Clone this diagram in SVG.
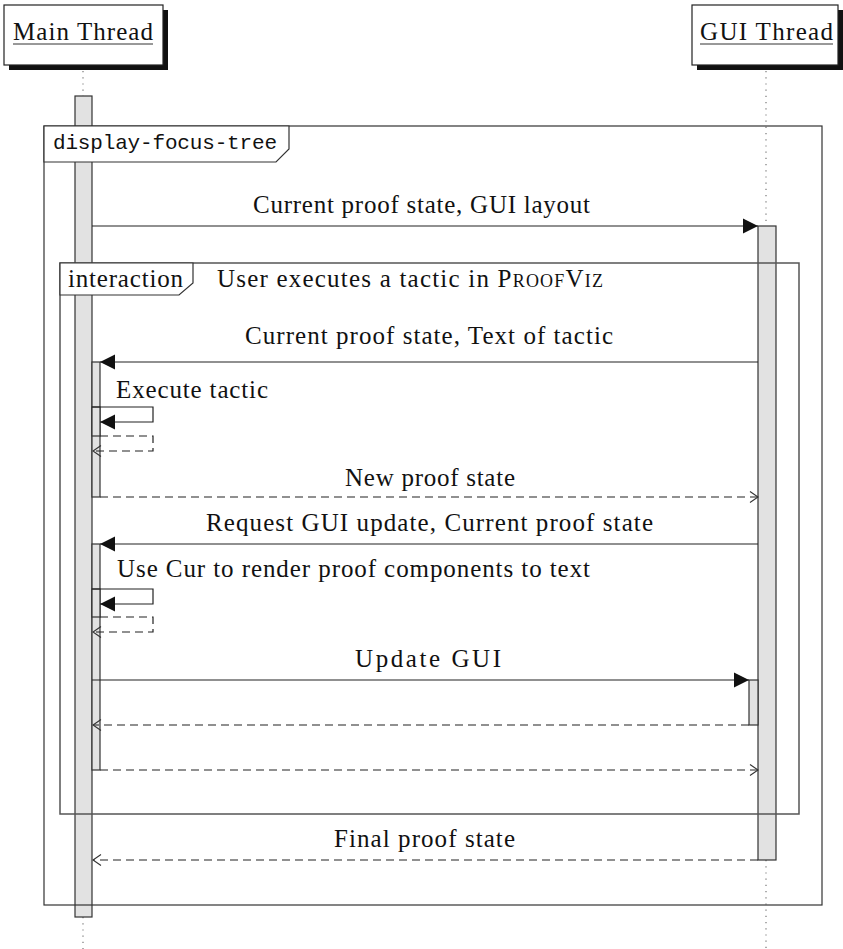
<svg xmlns="http://www.w3.org/2000/svg" width="843" height="949" viewBox="0 0 843 949">
<style>
.t{font-family:"Liberation Serif","DejaVu Serif",serif;font-size:25px;fill:#111}
.m{font-family:"Liberation Mono","DejaVu Sans Mono",monospace;font-size:21px;fill:#111}
.box{fill:#fff;stroke:#222;stroke-width:1.2}
.shadow{fill:#111}
.life{stroke:#777;stroke-width:1.2;stroke-dasharray:1.2 5;fill:none}
.bar{fill:#e2e2e2;stroke:#333;stroke-width:1.2}
.msg{stroke:#222;stroke-width:1.2;fill:none}
.ret{stroke:#222;stroke-width:1.2;fill:none;stroke-dasharray:8 5}
.frame{fill:none;stroke:#333;stroke-width:1.2}
.iframe{fill:none;stroke:#555;stroke-width:1.5}
.tab{fill:#fff;stroke:#333;stroke-width:1.2}
.under{stroke:#333;stroke-width:1}
</style>
<defs>
<marker id="fill" markerUnits="userSpaceOnUse" markerWidth="16" markerHeight="16" viewBox="0 0 16 16" refX="15" refY="8" orient="auto">
<path d="M0,0.5 L15,8 L0,15.5 Z" fill="#111"/>
</marker>
<marker id="open" markerUnits="userSpaceOnUse" markerWidth="12" markerHeight="14" viewBox="0 0 12 14" refX="9" refY="7" orient="auto">
<path d="M1,1.5 L9,7 L1,12.5" fill="none" stroke="#333" stroke-width="1.1"/>
</marker>
</defs>

<g id="lifelines">
<line class="life" x1="83" y1="71" x2="83" y2="96"/>
<line class="life" x1="83" y1="917" x2="83" y2="949"/>
<line class="life" x1="766" y1="71" x2="766" y2="226"/>
<line class="life" x1="766" y1="860" x2="766" y2="949"/>
</g>

<g id="main-thread">
<rect class="shadow" x="9" y="10" width="159" height="60"/>
<rect class="box" x="4" y="5" width="159" height="60"/>
<text class="t" x="13" y="40" textLength="140" lengthAdjust="spacing">Main Thread</text>
<line class="under" x1="13" y1="44" x2="153" y2="44"/>
</g>

<g id="gui-thread">
<rect class="shadow" x="697" y="10" width="146" height="60"/>
<rect class="box" x="692" y="5" width="146" height="60"/>
<text class="t" x="700" y="40" textLength="133" lengthAdjust="spacing">GUI Thread</text>
<line class="under" x1="700" y1="44" x2="833" y2="44"/>
</g>

<g id="activations">
<rect id="main-bar" class="bar" x="75" y="96" width="17" height="821"/>
<rect id="gui-bar" class="bar" x="758" y="226" width="18" height="634"/>
<rect class="bar" x="92" y="362" width="8" height="135"/>
<rect class="bar" x="92" y="407" width="8" height="29"/>
<rect class="bar" x="92" y="544" width="8" height="226"/>
<rect class="bar" x="92" y="589" width="8" height="28"/>
<rect class="bar" x="749" y="680" width="9" height="45"/>
</g>

<g id="frames">
<rect id="frame-display-focus-tree" class="frame" x="44" y="126" width="778" height="779"/>
<path class="tab" d="M44,126 V162 H276 L289,149 V126 Z"/>
<text class="m" x="53" y="149" textLength="224" lengthAdjust="spacing">display-focus-tree</text>
<rect id="frame-interaction" class="iframe" x="60" y="263" width="739" height="551"/>
<path class="tab" d="M60,263 V295 H179 L193,283 V263 Z"/>
<text class="t" x="68" y="287" textLength="115" lengthAdjust="spacing">interaction</text>
<text class="t" x="217" y="287" textLength="386" lengthAdjust="spacing">User executes a tactic in <tspan font-variant="small-caps">ProofViz</tspan></text>
</g>

<g id="connectors">
<line class="msg" x1="92" y1="226" x2="758" y2="226" marker-end="url(#fill)"/>
<text class="t" x="253" y="213" textLength="337" lengthAdjust="spacing">Current proof state, GUI layout</text>

<line class="msg" x1="758" y1="362" x2="100" y2="362" marker-end="url(#fill)"/>
<text class="t" x="245" y="344" textLength="368" lengthAdjust="spacing">Current proof state, Text of tactic</text>

<path class="msg" d="M92,407 H153 V422 H100" marker-end="url(#fill)"/>
<text class="t" x="116" y="398" textLength="152" lengthAdjust="spacing">Execute tactic</text>
<path class="ret" d="M100,436 H153 V451 H93" marker-end="url(#open)"/>

<line class="ret" x1="100" y1="497" x2="758" y2="497" marker-end="url(#open)"/>
<text class="t" x="345" y="486" textLength="170" lengthAdjust="spacing">New proof state</text>

<line class="msg" x1="758" y1="544" x2="100" y2="544" marker-end="url(#fill)"/>
<text class="t" x="206" y="531" textLength="447" lengthAdjust="spacing">Request GUI update, Current proof state</text>

<path class="msg" d="M92,589 H153 V604 H100" marker-end="url(#fill)"/>
<text class="t" x="117" y="577" textLength="473" lengthAdjust="spacing">Use Cur to render proof components to text</text>
<path class="ret" d="M100,617 H153 V632 H93" marker-end="url(#open)"/>

<line class="msg" x1="92" y1="680" x2="749" y2="680" marker-end="url(#fill)"/>
<text class="t" x="355" y="667" textLength="146" lengthAdjust="spacing">Update GUI</text>

<line class="ret" x1="749" y1="725" x2="93" y2="725" marker-end="url(#open)"/>

<line class="ret" x1="100" y1="770" x2="758" y2="770" marker-end="url(#open)"/>

<line class="ret" x1="758" y1="860" x2="93" y2="860" marker-end="url(#open)"/>
<text class="t" x="334" y="847" textLength="181" lengthAdjust="spacing">Final proof state</text>
</g>
</svg>
